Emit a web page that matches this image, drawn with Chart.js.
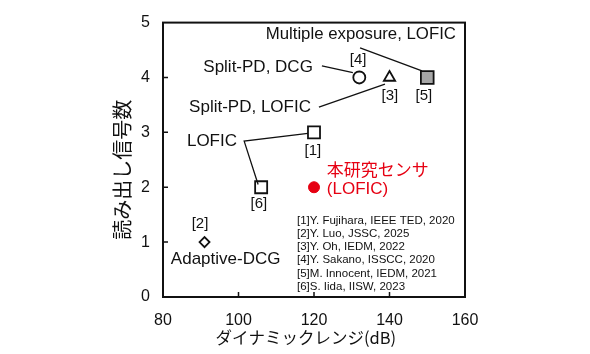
<!DOCTYPE html>
<html>
<head>
<meta charset="utf-8">
<script src="https://cdn.jsdelivr.net/npm/chart.js@4"></script>
<style>
html, body { margin: 0; padding: 0; background: #fff; }
#wrap { width: 590px; height: 354px; }
</style>
</head>
<body>
<div id="wrap"><canvas id="chart"></canvas></div>
<script>
const LATIN = '"Liberation Sans", Arial, "Noto Sans CJK JP", sans-serif'
const JP = '"Noto Sans CJK JP", "Liberation Sans", sans-serif'

// published sensors: dynamic range (dB) vs number of readout signals
const refIds = ['[1]', '[2]', '[3]', '[4]', '[5]', '[6]']
const refDR = [120, 91, 140, 132, 150, 106]
const refReads = [3, 1, 4, 4, 4, 2]
const refMarkers = ['rect', 'rectRot', 'triangle', 'circle', 'rect', 'rect']
const refFill = ['#fff', '#fff', '#fff', '#fff', '#a6a6a6', '#fff']
const refSize = [8.5, 5, 6.5, 6, 9, 8.5]

// this work
const thisDR = [120]
const thisReads = [2]

const references = [
    '[1]Y. Fujihara, IEEE TED, 2020',
    '[2]Y. Luo, JSSC, 2025',
    '[3]Y. Oh, IEDM, 2022',
    '[4]Y. Sakano, ISSCC, 2020',
    '[5]M. Innocent, IEDM, 2021',
    '[6]S. Iida, IISW, 2023'
]

// leader lines from the category labels to the markers
const leaders = [
    [[132.2, 4.54], [148.6, 4.12]],
    [[122.1, 4.21], [130.3, 4.09]],
    [[121.3, 3.46], [138.8, 3.88]],
    [[118.4, 2.98], [101.5, 2.84], [105.2, 2.05]]
]

// text annotations: [text, x, y, align, size, color, font]
const notes = [
    ['Multiple exposure, LOFIC', 132.4, 4.79, 'center', 16.8, '#111', LATIN],
    ['[4]', 131.7, 4.32, 'center', 15, '#111', LATIN],
    ['Split-PD, DCG', 119.7, 4.19, 'right', 17, '#111', LATIN],
    ['[3]', 140.1, 3.67, 'center', 15, '#111', LATIN],
    ['[5]', 149.1, 3.67, 'center', 15, '#111', LATIN],
    ['Split-PD, LOFIC', 119.2, 3.46, 'right', 17, '#111', LATIN],
    ['LOFIC', 99.6, 2.84, 'right', 17, '#111', LATIN],
    ['[1]', 119.7, 2.67, 'center', 15, '#111', LATIN],
    ['本研究センサ', 123.4, 2.32, 'left', 17, '#e60012', JP],
    ['(LOFIC)', 123.4, 1.96, 'left', 17, '#e60012', LATIN],
    ['[6]', 105.4, 1.70, 'center', 15, '#111', LATIN],
    ['[2]', 89.8, 1.33, 'center', 15, '#111', LATIN],
    ['Adaptive-DCG', 96.6, 0.68, 'center', 17, '#111', LATIN]
]
const refListX = 115.5
const refListTop = 1.39
const refListStep = 0.24

const datasets = leaders.map(line => ({
    type: 'line',
    data: line.map(p => ({x: p[0], y: p[1]})),
    borderColor: '#111',
    borderWidth: 1.3,
    pointRadius: 0,
    fill: false
}))
datasets.push({
    type: 'scatter',
    data: refDR.map((x, i) => ({x: x, y: refReads[i]})),
    pointStyle: refMarkers,
    pointRadius: refSize,
    backgroundColor: refFill,
    borderColor: '#111',
    borderWidth: 1.8
})
datasets.push({
    type: 'scatter',
    data: thisDR.map((x, i) => ({x: x, y: thisReads[i]})),
    pointStyle: 'circle',
    pointRadius: 5.5,
    backgroundColor: '#e60012',
    borderColor: '#e60012',
    borderWidth: 1
})

const frame = {
    id: 'frame',
    afterDraw(chart) {
        const ctx = chart.ctx
        const {left, right, top, bottom} = chart.chartArea
        const xs = chart.scales.x
        const ys = chart.scales.y
        ctx.save()
        ctx.strokeStyle = '#111'
        ctx.lineWidth = 2
        ctx.strokeRect(left, top, right - left, bottom - top)
        ctx.lineWidth = 1.5
        ctx.beginPath()
        for (const t of xs.ticks) {
            if (t.value <= xs.min || t.value >= xs.max) continue
            const px = xs.getPixelForValue(t.value)
            ctx.moveTo(px, bottom)
            ctx.lineTo(px, bottom - 5)
        }
        for (const t of ys.ticks) {
            if (t.value <= ys.min || t.value >= ys.max) continue
            const py = ys.getPixelForValue(t.value)
            ctx.moveTo(left, py)
            ctx.lineTo(left + 5, py)
        }
        ctx.stroke()

        ctx.textBaseline = 'middle'
        for (const [text, x, y, align, size, color, font] of notes) {
            ctx.font = `${size}px ${font}`
            ctx.fillStyle = color
            ctx.textAlign = align
            ctx.fillText(text, xs.getPixelForValue(x), ys.getPixelForValue(y))
        }
        ctx.font = `11.5px ${LATIN}`
        ctx.fillStyle = '#111'
        ctx.textAlign = 'left'
        references.forEach((r, i) => {
            ctx.fillText(r, xs.getPixelForValue(refListX), ys.getPixelForValue(refListTop - i * refListStep))
        })
        ctx.restore()
    }
}

new Chart(document.getElementById('chart'), {
    data: {datasets: datasets},
    options: {
        responsive: true,
        maintainAspectRatio: false,
        animation: false,
        layout: {padding: {left: 100, top: 12, right: 125, bottom: 0}},
        plugins: {
            legend: {display: false},
            tooltip: {enabled: false}
        },
        scales: {
            x: {
                type: 'linear',
                min: 80,
                max: 160,
                afterFit: scale => { scale.height = 57 },
                ticks: {stepSize: 20, color: '#111', padding: 14, font: {size: 16, family: LATIN}},
                grid: {display: false, drawTicks: false},
                border: {display: false},
                title: {
                    display: true,
                    // trailing ideographic space nudges the centred title left, as in the original
                    text: 'ダイナミックレンジ(dB)\u3000',
                    color: '#111',
                    font: {size: 16.5, family: JP},
                    padding: {top: 0, bottom: 6}
                }
            },
            y: {
                type: 'linear',
                min: 0,
                max: 5,
                afterFit: scale => { scale.width = 63 },
                ticks: {stepSize: 1, color: '#111', padding: 13, font: {size: 16, family: LATIN}},
                grid: {display: false, drawTicks: false},
                border: {display: false},
                title: {
                    display: true,
                    text: '読み出し信号数\u3000',
                    color: '#111',
                    font: {size: 20, family: JP},
                    padding: {top: 10, bottom: 0}
                }
            }
        }
    },
    plugins: [frame]
})
</script>
</body>
</html>
